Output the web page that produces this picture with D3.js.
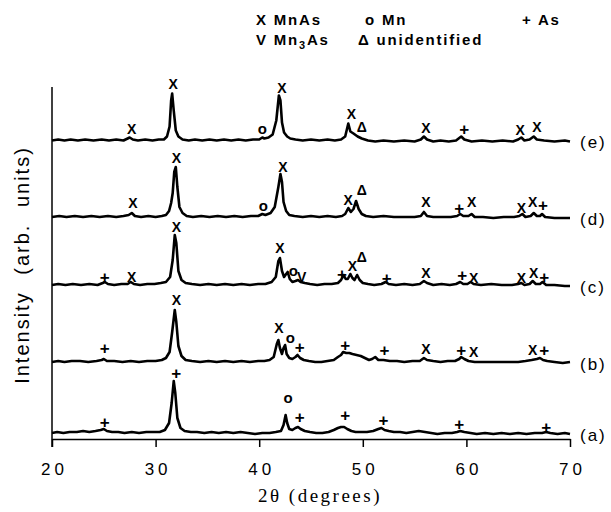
<!DOCTYPE html>
<html lang="en">
<head>
<meta charset="utf-8">
<title>XRD patterns</title>
<script src="https://d3js.org/d3.v7.min.js"></script>
<style>
  body { margin: 0; background: #fff; }
  svg text { font-family: "Liberation Sans", Arial, sans-serif; fill: #000; }
</style>
</head>
<body>
<div id="chart"></div>
<script>
// 2theta (deg), intensity above the curve's own baseline (arb. units)
var curveE = [[20,0],[20.6,1],[21.2,0],[21.8,1],[22.5,0],[23.2,1],[24.0,0],[24.8,1],[25.5,0],[26.2,1],[26.9,0],[27.3,2],[27.5,3],[27.8,1],[28.3,0],[29.0,1],[29.7,0],[30.3,1],[30.8,1],[31.1,4],[31.35,14],[31.5,40],[31.6,47],[31.75,30],[31.95,10],[32.2,4],[32.6,1],[33.2,0],[33.8,1],[34.5,0],[35.2,1],[35.9,0],[36.6,1],[37.3,0],[38.0,1],[38.7,0],[39.4,1],[40.0,1],[40.3,3],[40.5,2],[40.9,3],[41.3,6],[41.65,20],[41.9,45],[42.05,40],[42.2,18],[42.4,8],[42.7,4],[43.0,2],[43.5,1],[44.2,0],[45.0,1],[45.8,0],[46.6,1],[47.3,0],[47.9,1],[48.3,4],[48.6,17],[48.8,9],[49.1,7],[49.5,4],[49.9,2],[50.5,0],[51.2,-1],[52.0,0],[53.0,-1],[54.0,0],[55.0,-1],[55.6,1],[55.9,4],[56.2,1],[56.8,-1],[57.5,0],[58.3,-1],[59.0,0],[59.5,4],[59.8,1],[60.5,-1],[61.5,0],[62.5,-1],[63.5,0],[64.5,-1],[65.0,1],[65.3,3],[65.6,0],[66.1,1],[66.5,4],[66.8,1],[67.5,0],[68.5,-1],[69.5,0],[70,-1]];
var curveD = [[20,0],[20.7,1],[21.4,0],[22.2,1],[23.0,0],[23.8,1],[24.6,0],[25.4,1],[26.2,0],[26.9,1],[27.4,2],[27.7,4],[28.0,1],[28.6,0],[29.3,1],[30.0,0],[30.6,1],[31.0,2],[31.3,6],[31.5,14],[31.65,24],[31.8,45],[31.95,50],[32.1,30],[32.3,10],[32.6,4],[33.0,1],[33.6,0],[34.4,1],[35.2,0],[36.0,1],[36.8,0],[37.6,1],[38.4,0],[39.2,1],[39.9,1],[40.3,3],[40.6,2],[41.1,4],[41.5,10],[41.85,30],[42.05,43],[42.2,35],[42.35,15],[42.6,6],[42.9,2],[43.4,1],[44.2,0],[45.0,1],[45.8,0],[46.6,1],[47.4,0],[48.0,1],[48.3,3],[48.6,9],[48.85,5],[49.1,8],[49.35,16],[49.6,8],[49.9,3],[50.3,1],[51.0,0],[52.0,1],[53.0,0],[54.0,0],[55.0,0],[55.6,1],[55.9,5],[56.2,1],[56.8,0],[57.6,0],[58.5,0],[59.1,1],[59.4,3],[59.7,1],[60.2,1],[60.5,3],[60.8,0],[61.6,0],[62.6,-1],[63.6,0],[64.6,0],[65.1,1],[65.4,3],[65.7,0],[66.2,1],[66.5,4],[66.8,1],[67.1,1],[67.3,3],[67.6,0],[68.5,-1],[69.5,-1],[70,-1]];
var curveC = [[20,0],[20.6,1],[21.3,0],[22.0,1],[22.8,0],[23.6,1],[24.4,0],[24.9,2],[25.1,3],[25.4,1],[26.0,0],[26.7,1],[27.3,1],[27.6,3],[27.9,1],[28.5,0],[29.2,1],[29.9,1],[30.5,2],[31.0,3],[31.4,8],[31.65,25],[31.85,50],[32.0,42],[32.2,14],[32.5,5],[32.9,2],[33.5,1],[34.3,0],[35.1,1],[35.9,0],[36.7,1],[37.5,0],[38.3,1],[39.1,0],[39.9,1],[40.6,1],[41.2,3],[41.6,8],[41.85,24],[42.0,27],[42.2,14],[42.4,8],[42.6,11],[42.75,13],[42.95,6],[43.2,3],[43.5,4],[43.75,5],[44.0,3],[44.4,2],[44.9,1],[45.6,0],[46.3,1],[47.0,1],[47.6,2],[47.9,5],[48.15,10],[48.35,6],[48.55,6],[48.8,11],[49.0,7],[49.2,5],[49.45,10],[49.7,5],[50.0,2],[50.5,1],[51.1,0],[51.8,1],[52.2,3],[52.5,1],[53.2,0],[54.0,1],[54.8,0],[55.5,1],[55.9,4],[56.2,2],[56.8,0],[57.6,1],[58.4,0],[59.0,1],[59.4,3],[59.7,1],[60.1,1],[60.4,3],[60.7,1],[61.4,0],[62.4,1],[63.4,0],[64.4,0],[65.0,1],[65.3,2],[65.6,0],[66.1,1],[66.4,4],[66.7,1],[67.1,1],[67.35,3],[67.7,0],[68.5,0],[69.5,-1],[70,-1]];
var curveB = [[20,0],[20.6,1],[21.2,0],[21.9,1],[22.7,1],[23.5,0],[24.3,1],[24.8,2],[25.0,3],[25.3,1],[26.0,1],[26.8,0],[27.6,1],[28.4,0],[29.2,1],[30.0,1],[30.6,2],[31.0,4],[31.35,10],[31.6,30],[31.85,52],[32.0,40],[32.2,16],[32.5,6],[32.9,2],[33.5,1],[34.3,0],[35.1,1],[35.9,0],[36.7,1],[37.5,0],[38.3,1],[39.1,0],[39.9,1],[40.5,1],[41.0,2],[41.4,5],[41.7,18],[41.85,22],[42.0,14],[42.2,8],[42.35,14],[42.5,17],[42.65,8],[42.9,4],[43.2,3],[43.5,5],[43.7,7],[43.95,4],[44.3,2],[44.8,1],[45.4,0],[46.0,0],[46.6,1],[47.2,2],[47.6,5],[47.9,7],[48.1,10],[48.4,9],[48.7,9],[49.0,8],[49.4,7],[49.8,6],[50.2,4],[50.6,2],[50.9,3],[51.2,5],[51.5,2],[52.0,2],[52.6,1],[53.3,1],[54.0,0],[54.8,1],[55.5,1],[55.9,4],[56.2,2],[56.8,1],[57.5,0],[58.2,1],[58.9,1],[59.3,3],[59.5,5],[59.8,3],[60.2,1],[60.8,0],[61.5,0],[62.3,0],[63.2,0],[64.1,0],[65.0,0],[65.7,1],[66.3,2],[66.8,3],[67.1,4],[67.4,2],[67.8,1],[68.5,0],[69.3,-1],[70,0]];
var curveA = [[20,0],[20.5,1],[21.1,0],[21.7,1],[22.4,1],[23.0,2],[23.6,1],[24.2,2],[24.7,3],[25.0,4],[25.3,2],[25.8,1],[26.4,1],[27.0,0],[27.7,1],[28.4,0],[29.1,1],[29.8,1],[30.4,1],[30.9,3],[31.3,10],[31.55,30],[31.75,52],[31.9,40],[32.1,15],[32.4,5],[32.8,2],[33.4,1],[34.0,1],[34.7,0],[35.4,1],[36.1,0],[36.8,1],[37.5,0],[38.2,1],[38.9,0],[39.6,-1],[40.3,0],[41.0,0],[41.6,1],[42.1,2],[42.35,8],[42.55,18],[42.7,10],[42.9,4],[43.2,3],[43.5,5],[43.75,6],[44.0,4],[44.4,2],[44.9,1],[45.5,0],[46.1,0],[46.7,1],[47.2,3],[47.6,5],[47.9,6],[48.2,6],[48.5,4],[48.9,2],[49.3,1],[49.8,1],[50.4,1],[51.0,2],[51.5,4],[51.8,5],[52.1,3],[52.5,2],[53.0,1],[53.6,1],[54.2,0],[54.8,1],[55.4,2],[56.0,1],[56.6,0],[57.2,-1],[57.9,0],[58.6,0],[59.1,1],[59.4,2],[59.8,1],[60.4,0],[61.0,-1],[61.8,0],[62.6,-1],[63.4,0],[64.2,-1],[65.0,0],[65.8,-1],[66.6,0],[67.3,0],[67.7,1],[68.1,0],[68.8,-1],[69.5,0],[70,-1]];

// phase markers: 2theta, symbol, height above baseline
var marksE = [[27.7,"X",12],[31.7,"X",57],[40.3,"o",12],[42.2,"X",53],[48.9,"X",27],[49.9,"Δ",14],[56.1,"X",13],[59.8,"+",11],[65.2,"X",11],[66.8,"X",14]];
var marksD = [[27.8,"X",14],[32.0,"X",59],[40.4,"o",12],[42.3,"X",50],[48.6,"X",17],[49.9,"Δ",27],[56.1,"X",15],[59.3,"+",9],[60.5,"X",15],[65.3,"X",9],[66.4,"X",15],[67.4,"+",12]];
var marksC = [[25.1,"+",8],[27.7,"X",8],[32.0,"X",58],[42.0,"X",37],[43.3,"o",15],[44.1,"V",8],[48.0,"+",11],[49.0,"X",19],[49.9,"Δ",28],[52.3,"+",7],[56.1,"X",12],[59.6,"+",10],[60.7,"X",7],[65.3,"X",7],[66.5,"X",12],[67.5,"+",8]];
var marksB = [[25.1,"+",14],[32.0,"X",62],[41.9,"X",34],[43.0,"o",25],[43.9,"+",15],[48.3,"+",17],[52.1,"+",12],[56.1,"X",13],[59.5,"+",12],[60.7,"X",10],[66.4,"X",12],[67.5,"+",12]];
var marksA = [[25.1,"+",11],[32.0,"+",60],[42.8,"o",36],[43.9,"+",16],[48.3,"+",18],[52.0,"+",13],[59.3,"+",9],[67.7,"+",6]];

var sampleNames = ["(a)", "(b)", "(c)", "(d)", "(e)"];
var offsets = [6, 77, 154, 222, 298.5];
var curves = [curveA, curveB, curveC, curveD, curveE];
var marks = [marksA, marksB, marksC, marksD, marksE];
var xTicks = [20, 30, 40, 50, 60, 70];

var svg = d3.select("#chart").append("svg")
  .attr("width", 611)
  .attr("height", 512);

var x = d3.scaleLinear().domain([20, 70]).range([52, 570]);
var y = d3.scaleLinear().domain([0, 352]).range([439, 87]);

// x axis
var xAxis = svg.append("g")
  .attr("transform", "translate(0," + y(0) + ")")
  .call(d3.axisBottom(x).tickValues(xTicks).tickSize(8).tickSizeOuter(0).tickPadding(16).tickFormat(d3.format("d")));
xAxis.select(".domain").attr("stroke-width", 1.5);
xAxis.selectAll(".tick line").attr("stroke-width", 1.5);
xAxis.selectAll("text")
  .attr("dx", "2px")
  .style("font-size", "17px")
  .style("letter-spacing", "4px");

// y axis, just the line
svg.append("line")
  .attr("x1", x(20)).attr("x2", x(20))
  .attr("y1", y(0) + 8).attr("y2", y(352))
  .attr("stroke", "#000").attr("stroke-width", 1.5);

svg.append("text")
  .attr("x", 320).attr("y", 502)
  .attr("text-anchor", "middle")
  .style("font-family", "'Liberation Serif', serif")
  .style("font-size", "19px")
  .style("letter-spacing", "2.5px")
  .text("2θ (degrees)");

svg.append("text")
  .attr("transform", "translate(29,265) rotate(-90)")
  .attr("text-anchor", "middle")
  .style("font-size", "20px")
  .style("word-spacing", "9px")
  .style("letter-spacing", "2px")
  .text("Intensity (arb. units)");

var line = d3.line();
var markSize = { "X": "14px", "o": "15px", "+": "17px", "V": "14px", "Δ": "14px" };

curves.forEach(function(data, i) {
  var off = offsets[i];
  svg.append("path")
    .datum(data)
    .attr("fill", "none")
    .attr("stroke", "#000")
    .attr("stroke-width", 2.6)
    .attr("stroke-linejoin", "round")
    .attr("d", line.x(function(d) { return x(d[0]); }).y(function(d) { return y(d[1] + off); }));

  svg.selectAll(null)
    .data(marks[i])
    .enter()
    .append("text")
      .attr("x", function(d) { return x(d[0]); })
      .attr("y", function(d) { return y(d[2] + off); })
      .attr("text-anchor", "middle")
      .attr("dominant-baseline", "central")
      .style("font-size", function(d) { return markSize[d[1]]; })
      .style("font-weight", "bold")
      .text(function(d) { return d[1]; });

  svg.append("text")
    .attr("x", x(70) + 10)
    .attr("y", y(off) + 2)
    .attr("dominant-baseline", "central")
    .style("font-size", "17px")
    .style("letter-spacing", "2px")
    .text(sampleNames[i]);
});

// legend
var legend = svg.append("g")
  .style("font-weight", "bold")
  .style("font-size", "15px")
  .style("letter-spacing", "1.8px");
legend.append("text").attr("x", 256).attr("y", 25).text("X  MnAs");
legend.append("text").attr("x", 365).attr("y", 25).text("o Mn");
legend.append("text").attr("x", 522).attr("y", 25).text("+  As");
var v = legend.append("text").attr("x", 256).attr("y", 45);
v.append("tspan").text("V  Mn");
v.append("tspan").attr("dy", 4).style("font-size", "11px").text("3");
v.append("tspan").attr("dy", -4).text("As");
legend.append("text").attr("x", 358).attr("y", 45).text("Δ  unidentified");
</script>
</body>
</html>
